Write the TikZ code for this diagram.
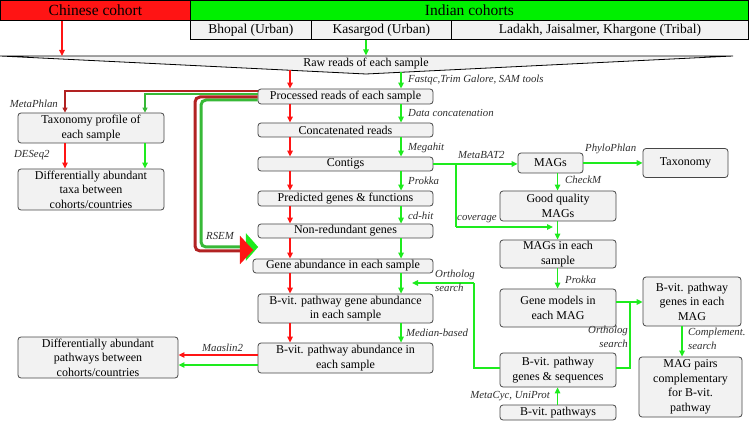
\documentclass[tikz,border=0pt]{standalone}
\usepackage{fontspec}
\setmainfont{Liberation Serif}
\usetikzlibrary{arrows.meta}
\definecolor{rd}{RGB}{255,20,20}
\definecolor{gn}{RGB}{30,235,30}
\definecolor{drd}{RGB}{178,34,34}
\definecolor{dgn}{RGB}{55,185,55}
\definecolor{boxfill}{RGB}{242,242,242}
\definecolor{boxline}{RGB}{70,70,70}
\definecolor{lbl}{RGB}{45,45,45}
\begin{document}
\begin{tikzpicture}[x=1pt,y=-1pt,
  box/.style={draw=boxline, fill=boxfill, rounded corners=3pt, line width=0.8pt, align=center, inner sep=0pt, font=\fontsize{12}{14.5}\selectfont},
  hdr/.style={draw=black, line width=0.8pt, inner sep=0pt, anchor=north west, font=\fontsize{13.5}{15}\selectfont},
  lab/.style={font=\fontsize{10.8}{13.5}\selectfont\itshape, text=lbl, inner sep=0pt},
  ra/.style={draw=rd, line width=1.3pt, -{Triangle[length=6pt,width=5.5pt]}},
  ga/.style={draw=gn, line width=1.3pt, -{Triangle[length=6pt,width=5.5pt]}},
  gl/.style={draw=gn, line width=1.3pt}]
\useasboundingbox (0,0) rectangle (750,422);

% header
\node[hdr, fill=rd, minimum width=190pt, minimum height=20pt, font=\fontsize{15.5}{17}\selectfont] (chinese) at (0,0) {Chinese cohort};
\node[hdr, fill={rgb,255:red,0;green,240;blue,0}, minimum width=558pt, minimum height=20pt, font=\fontsize{15.5}{17}\selectfont] (indian) at (190,0) {Indian cohorts};
\node[hdr, fill=boxfill, minimum width=121pt, minimum height=19pt] (bhopal) at (190,20) {Bhopal (Urban)};
\node[hdr, fill=boxfill, minimum width=140pt, minimum height=19pt] (kasargod) at (311,20) {Kasargod (Urban)};
\node[hdr, fill=boxfill, minimum width=297pt, minimum height=19pt] (ladakh) at (451,20) {Ladakh, Jaisalmer, Khargone (Tribal)};

% raw reads wedge
\draw[fill=boxfill, draw=black, line width=0.8pt] (0,56) -- (733,56) -- (366,74) -- cycle;
\node[font=\fontsize{12}{13}\selectfont, inner sep=0pt] (raw) at (366,63.5) {Raw reads of each sample};

% main column
\node[box, minimum width=175pt, minimum height=15pt] (procd) at (345.5,96.5) {Processed reads of each sample};
\node[box, minimum width=175pt, minimum height=14pt] (concat) at (345.5,130) {Concatenated reads};
\node[box, minimum width=175pt, minimum height=14pt] (contigs) at (345.5,164) {Contigs};
\node[box, minimum width=175pt, minimum height=15pt] (predicted) at (345.5,198.5) {Predicted genes \& functions};
\node[box, minimum width=175pt, minimum height=14pt] (nonred) at (345.5,231) {Non-redundant genes};
\node[box, minimum width=180pt, minimum height=14pt] (geneab) at (343,266) {Gene abundance in each sample};
\node[box, minimum width=175pt, minimum height=29pt] (bvgene) at (345.5,308.5) {B-vit. pathway gene abundance\\in each sample};
\node[box, minimum width=175pt, minimum height=30pt] (bvab) at (345.5,358) {B-vit. pathway abundance in\\each sample};

% left column
\node[box, minimum width=146pt, minimum height=30pt] (taxprof) at (91,128) {Taxonomy profile of\\each sample};
\node[box, minimum width=146pt, minimum height=41pt] (difftaxa) at (91,189.5) {Differentially abundant\\taxa between\\cohorts/countries};
\node[box, minimum width=160pt, minimum height=41pt] (diffpath) at (98,357.5) {Differentially abundant\\pathways between\\cohorts/countries};

% right side
\node[box, minimum width=65pt, minimum height=20pt] (mags) at (550.5,163) {MAGs};
\node[box, minimum width=85pt, minimum height=29pt] (taxo) at (685.5,163) {Taxonomy};
\node[box, minimum width=116pt, minimum height=30pt] (goodmags) at (558,206) {Good quality\\MAGs};
\node[box, minimum width=116pt, minimum height=28pt] (magsamp) at (558,254) {MAGs in each\\sample};
\node[box, minimum width=116pt, minimum height=38pt] (genemod) at (558,308) {Gene models in\\each MAG};
\node[box, minimum width=98pt, minimum height=49pt] (bvmag) at (692,301.5) {B-vit. pathway\\genes in each\\MAG};
\node[box, minimum width=116pt, minimum height=34pt] (bvseq) at (558,370) {B-vit. pathway\\genes \& sequences};
\node[box, minimum width=103pt, minimum height=60pt] (magpairs) at (690.5,387) {MAG pairs\\complementary\\for B-vit.\\pathway};
\node[box, minimum width=116pt, minimum height=15pt] (bvpath) at (558,412.5) {B-vit.\ pathways};

% coordinates
\coordinate (rx) at (290,0);
\coordinate (gx) at (401,0);
\coordinate (chx) at (62,56);
\coordinate (kgx) at (366,55.5);
\coordinate (rawR) at (290,70.3);
\coordinate (rawG) at (401,72.3);
\coordinate (tr) at (65,91);
\coordinate (tg) at (145,94);
\coordinate (rr1) at (195,97);
\coordinate (rr2) at (195,251);
\coordinate (rg1) at (201,100);
\coordinate (rg2) at (201,247);
\coordinate (rgend) at (258,247);
\coordinate (mr) at (220,355);
\coordinate (mg) at (220,365);
\coordinate (jc) at (456,164);
\coordinate (jc2) at (456,227);
\coordinate (covend) at (553,227);
\coordinate (mx) at (557.5,0);
\coordinate (jb) at (630,302);
\coordinate (jb2) at (630,368);
\coordinate (cx2) at (682,0);
\coordinate (ol1) at (474,283);
\coordinate (ol2) at (474,368);
\coordinate (olend) at (412,283);

% top arrows
\draw[ra] (chinese.south -| chx) -- (chx);
\draw[ga] (kasargod.south -| kgx) -- (kgx);
\draw[ra] (rawR) -- (procd.north -| rx);
\draw[ga] (rawG) -- (procd.north -| gx);

% main column arrows
\foreach \a/\b in {procd/concat, concat/contigs, contigs/predicted, predicted/nonred, nonred/geneab, geneab/bvgene, bvgene/bvab} {
  \draw[ra] (\a.south -| rx) -- (\b.north -| rx);
  \draw[ga] (\a.south -| gx) -- (\b.north -| gx);
}

% thick lines to taxonomy
\draw[drd, line width=2pt, -{Triangle[length=5pt,width=5pt]}] (procd.west |- tr) -- (tr) -- (taxprof.north -| tr);
\draw[dgn, line width=2pt, -{Triangle[length=5pt,width=5pt]}] (procd.west |- tg) -- (tg) -- (taxprof.north -| tg);
\draw[ra] (taxprof.south -| tr) -- (difftaxa.north -| tr);
\draw[ga] (taxprof.south -| tg) -- (difftaxa.north -| tg);

% RSEM thick lines
\draw[dgn, line width=3pt, rounded corners=5pt] (procd.west |- rg1) -- (rg1) -- (rg2) -- ([xshift=-10pt]rgend);
\draw[gn, line width=0.1pt, fill=gn] (246,233.5) -- (258,247) -- (246,260.5) -- cycle;
\draw[drd, line width=3pt, rounded corners=5pt] (procd.west |- rr1) -- (rr1) -- (rr2) -- ([xshift=-10pt]geneab.west |- rr2);
\draw[rd, line width=0.1pt, fill=rd] (240,236) -- (253,250) -- (240,264) -- cycle;

% outputs to differential pathways
\draw[ra] (bvab.west |- mr) -- (diffpath.east |- mr);
\draw[ga] (bvab.west |- mg) -- (diffpath.east |- mg);

% right side connectors
\draw[ga] (contigs.east |- jc) -- (mags.west |- jc);
\draw[gl] (jc) -- (jc2);
\draw[ga] (jc2) -- (covend);
\draw[ga] (mags.east) -- (taxo.west);
\draw[ga] (mags.south -| mx) -- (goodmags.north -| mx);
\draw[ga] (goodmags.south -| mx) -- (magsamp.north -| mx);
\draw[ga] (magsamp.south -| mx) -- (genemod.north -| mx);
\draw[ga] (bvpath.north -| mx) -- (bvseq.south -| mx);
\draw[ga] (genemod.east |- jb) -- (bvmag.west |- jb);
\draw[gl] (bvseq.east |- jb2) -- (jb2) -- (jb);
\draw[ga] (bvmag.south -| cx2) -- (magpairs.north -| cx2);
\draw[gl] (bvseq.west |- ol2) -- (ol2) -- (ol1);
\draw[ga] (ol1) -- (olend);

% labels
\node[lab, anchor=west] (l1) at (408,80) {Fastqc,Trim Galore, SAM tools};
\node[lab, anchor=west] (l2) at (408,113) {Data concatenation};
\node[lab, anchor=west] (l3) at (408,148) {Megahit};
\node[lab, anchor=west] (l4) at (408,181) {Prokka};
\node[lab, anchor=west] (l5) at (408,216) {cd-hit};
\node[lab, anchor=west] (l6) at (406,333) {Median-based};
\node[lab, anchor=north west, align=left] (l7) at (435,270) {Ortholog\\search};
\node[lab, anchor=east] (l8) at (58,104) {MetaPhlan};
\node[lab, anchor=west] (l9) at (14,155) {DESeq2};
\node[lab, anchor=west] (l10) at (206,236) {RSEM};
\node[lab, anchor=west] (l11) at (202,348) {Maaslin2};
\node[lab, anchor=west] (l12) at (458,155) {MetaBAT2};
\node[lab, anchor=west] (l13) at (457,219) {coverage};
\node[lab, anchor=west] (l14) at (585,149) {PhyloPhlan};
\node[lab, anchor=west] (l15) at (565,180) {CheckM};
\node[lab, anchor=west] (l16) at (565,280) {Prokka};
\node[lab, anchor=north east, align=right] (l17) at (628,326) {Ortholog\\search};
\node[lab, anchor=north west, align=left] (l18) at (688,328) {Complement.\\search};
\node[lab, anchor=east] (l19) at (550,396) {MetaCyc, UniProt};
\end{tikzpicture}
\end{document}
